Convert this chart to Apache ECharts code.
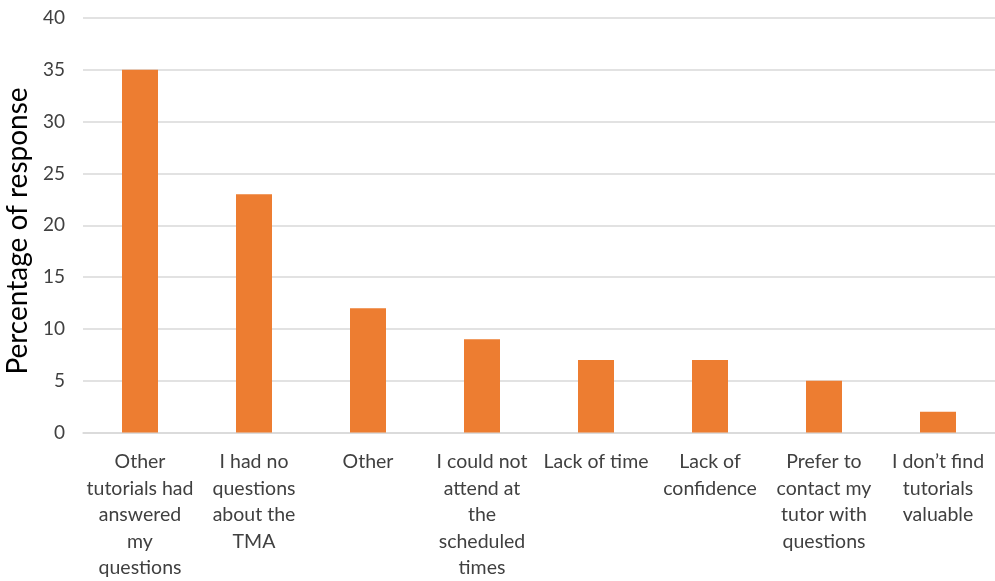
<!DOCTYPE html>
<html>
<head>
<meta charset="utf-8">
<script src="https://cdn.jsdelivr.net/npm/echarts@6/dist/echarts.min.js"></script>
<style>
  html, body { margin: 0; padding: 0; background: #ffffff; }
  #chart { width: 995px; height: 581px; }
</style>
</head>
<body>
<div id="chart"></div>
<script>
// Reasons for not attending tutorials
const categories = [
  'Other\ntutorials had\nanswered\nmy\nquestions',
  'I had no\nquestions\nabout the\nTMA',
  'Other',
  'I could not\nattend at\nthe\nscheduled\ntimes',
  'Lack of time',
  'Lack of\nconfidence',
  'Prefer to\ncontact my\ntutor with\nquestions',
  'I don\u2019t find\ntutorials\nvaluable'
];
const responsePercent = [35, 23, 12, 9, 7, 7, 5, 2];
const yTicks = { min: 0, max: 40, interval: 5 };
const yTitle = 'Percentage of response';

const chart = echarts.init(document.getElementById('chart'));
chart.setOption({
  animation: false,
  textStyle: { fontFamily: 'Lato, "Open Sans", sans-serif' },
  grid: { left: 83, right: 0, top: 18, bottom: 144 },
  graphic: [{
    type: 'text',
    x: 18,
    y: 231,
    rotation: Math.PI / 2,
    style: {
      text: yTitle,
      fill: '#000000',
      font: '28px Lato, sans-serif',
      textAlign: 'center',
      textVerticalAlign: 'middle'
    }
  }],
  xAxis: {
    type: 'category',
    data: categories,
    axisLine: { show: true, lineStyle: { color: '#d9d9d9', width: 1.5 } },
    axisTick: { show: false },
    axisLabel: {
      interval: 0,
      margin: 16,
      color: '#404040',
      fontSize: 19.5,
      lineHeight: 26.5,
      fontFamily: 'Lato, sans-serif'
    }
  },
  yAxis: {
    type: 'value',
    min: yTicks.min,
    max: yTicks.max,
    interval: yTicks.interval,
    axisLine: { show: false },
    axisTick: { show: false },
    axisLabel: { color: '#404040', fontSize: 19, margin: 18, fontFamily: 'Lato, sans-serif' },
    splitLine: { lineStyle: { color: '#d9d9d9', width: 1.5 } }
  },
  series: [{
    type: 'bar',
    data: responsePercent,
    barWidth: 36,
    itemStyle: { color: '#ED7D31' }
  }]
});
</script>
</body>
</html>
